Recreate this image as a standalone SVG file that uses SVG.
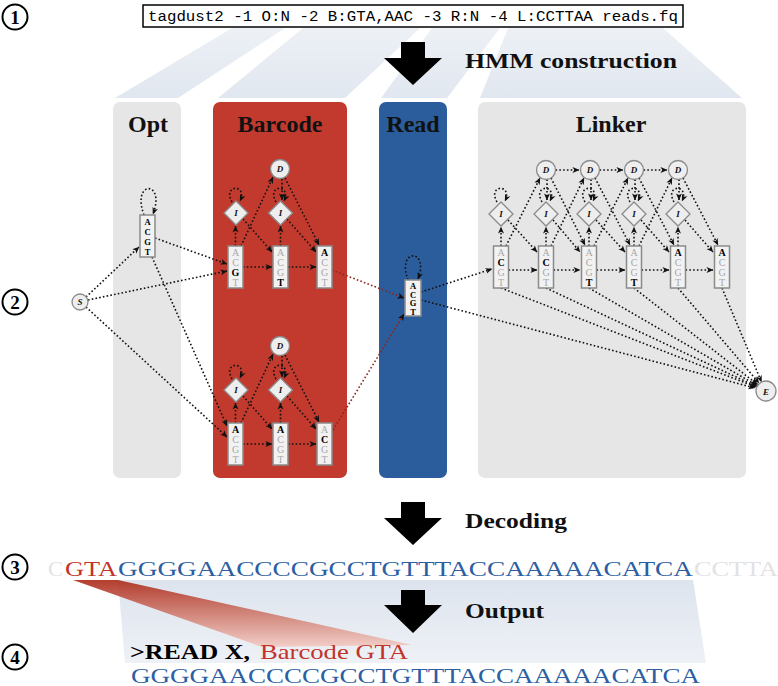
<svg xmlns="http://www.w3.org/2000/svg" width="778" height="686" viewBox="0 0 778 686">
<defs>
<marker id="ah" viewBox="0 0 8 8" refX="7.5" refY="4" markerWidth="7" markerHeight="7" orient="auto" markerUnits="userSpaceOnUse"><path d="M0,0.6 L8,4 L0,7.4 L2.2,4 z" fill="#111"/></marker>
<linearGradient id="band" x1="0" y1="0" x2="0" y2="1"><stop offset="0" stop-color="#dde4ee"/><stop offset="1" stop-color="#eef1f6"/></linearGradient>
<linearGradient id="wedge" x1="0" y1="0" x2="0" y2="1"><stop offset="0" stop-color="#ad2d1c"/><stop offset="1" stop-color="#f2cbc3"/></linearGradient>
<linearGradient id="fan" x1="0" y1="0" x2="0" y2="1"><stop offset="0" stop-color="#edf1f6"/><stop offset="1" stop-color="#e1e7f0"/></linearGradient>
</defs>
<style>
.num{font-family:"Liberation Serif",serif;font-weight:bold;font-size:19px;text-anchor:middle}
.ncirc{fill:#fff;stroke:#000;stroke-width:2}
.title{font-family:"Liberation Serif",serif;font-weight:bold;font-size:24px;text-anchor:middle;fill:#111}
.lab{font-family:"Liberation Serif",serif;font-weight:bold;font-size:21px;fill:#111}
.box{fill:#f2f2f2;stroke:#8a8a8a;stroke-width:1.5}
.st{fill:#eeeeee;stroke:#8a8a8a;stroke-width:1.3}
.lt{font-family:"Liberation Serif",serif;font-size:10px;text-anchor:middle;fill:#a8a8a8}
.lb{font-family:"Liberation Serif",serif;font-size:10px;font-weight:bold;text-anchor:middle;fill:#000}
.ls{font-family:"Liberation Serif",serif;font-size:8.5px;font-weight:bold;text-anchor:middle;fill:#000}
.it{font-family:"Liberation Serif",serif;font-style:italic;font-weight:bold;font-size:9px;text-anchor:middle;fill:#111}
.c{fill:none;stroke:#111;stroke-width:1.6;stroke-dasharray:1.6 2.2;marker-end:url(#ah)}
.cr{fill:none;stroke:#8e2418;stroke-width:1.6;stroke-dasharray:1.6 2.2;marker-end:url(#ah)}
.seq{font-family:"Liberation Serif",serif;font-size:22px}
</style>
<rect width="778" height="686" fill="#fff"/>

<g id="fans" fill="url(#fan)">
<polygon points="232,28 285,28 178,98 115,98"/>
<polygon points="303,28 420,28 345,98 218,98"/>
<polygon points="432,28 500,28 447,98 381,98"/>
<polygon points="508,28 663,28 742,98 480,98"/>
</g>

<g id="step1">
<circle class="ncirc" cx="15" cy="17" r="12.5"/><text class="num" x="15" y="23.5">1</text>
<rect x="143" y="5" width="540" height="22" fill="#fff" stroke="#000" stroke-width="1.5"/>
<text x="148" y="21" font-family="Liberation Mono,monospace" font-size="15.5" textLength="530" lengthAdjust="spacingAndGlyphs">tagdust2 -1 O:N -2 B:GTA,AAC -3 R:N -4 L:CCTTAA reads.fq</text>
<polygon points="401,42 425,42 425,58 442,58 413,85 384,58 401,58" fill="#000"/>
<text class="lab" x="465" y="68" font-size="24" textLength="212" lengthAdjust="spacingAndGlyphs">HMM construction</text>
</g>

<g id="col_opt"><rect x="113" y="102" width="68" height="376" rx="7" fill="#e6e6e6"/><text class="title" x="148" y="132">Opt</text></g>
<g id="col_barcode"><rect x="213" y="102" width="134" height="376" rx="7" fill="#c23a2d"/><text class="title" x="280" y="132">Barcode</text></g>
<g id="col_read"><rect x="379" y="102" width="68" height="376" rx="7" fill="#2b5c9c"/><text class="title" x="413" y="132">Read</text></g>
<g id="col_linker"><rect x="478" y="102" width="268" height="376" rx="7" fill="#e6e6e6"/><text class="title" x="611" y="132">Linker</text></g>

<circle class="ncirc" cx="15" cy="302" r="12.5"/><text class="num" x="15" y="308.5">2</text>

<g id="connectors">
<path class="c" d="M86,297 L139,247"/>
<path class="c" d="M88,300 L227,271"/>
<path class="c" d="M86,307 L227,437"/>
<path class="c" d="M155,238 L227,264"/>
<path class="c" d="M152,257 L227,426"/>
<path class="c" d="M144,215 C131,180 166,180 153,214"/>
<path class="c" d="M235.5,246 L235.5,226"/>
<path class="c" d="M280.5,246 L280.5,226"/>
<path class="c" d="M243,267 L272,267"/>
<path class="c" d="M288,267 L316,267"/>
<path class="c" d="M243,219 L272,252"/>
<path class="c" d="M287,219 L316,252"/>
<path class="c" d="M241,246 L273,177"/>
<path class="c" d="M282,179 L282,200"/>
<path class="c" d="M285,178 L319,245"/>
<path class="c" d="M232,202 C222,184 248,184 240,201"/>
<path class="c" d="M276,202 C266,184 292,184 284,201"/>
<path class="c" d="M235.5,423 L235.5,403"/>
<path class="c" d="M280.5,423 L280.5,403"/>
<path class="c" d="M243,444 L272,444"/>
<path class="c" d="M288,444 L316,444"/>
<path class="c" d="M243,396 L272,429"/>
<path class="c" d="M287,396 L316,429"/>
<path class="c" d="M241,423 L273,354"/>
<path class="c" d="M282,356 L282,377"/>
<path class="c" d="M285,355 L319,422"/>
<path class="c" d="M232,379 C222,361 248,361 240,378"/>
<path class="c" d="M276,379 C266,361 292,361 284,378"/>
<path class="cr" d="M332,270 L404,298"/>
<path class="cr" d="M333,430 L404,314"/>
<path class="c" d="M408,280 C396,248 430,248 418,279"/>
<path class="c" d="M421,292 L492,269"/>
<path class="c" d="M421,300 L755,388"/>
<path class="c" d="M508.5,270 L537,270"/>
<path class="c" d="M553.5,270 L580,270"/>
<path class="c" d="M596.5,270 L625,270"/>
<path class="c" d="M641.5,270 L669,270"/>
<path class="c" d="M685.5,270 L713,270"/>
<path class="c" d="M501,246 L501,227"/>
<path class="c" d="M546,246 L546,227"/>
<path class="c" d="M589,246 L589,227"/>
<path class="c" d="M634,246 L634,227"/>
<path class="c" d="M678,246 L678,227"/>
<path class="c" d="M508,220 L537,252"/>
<path class="c" d="M553,220 L580,252"/>
<path class="c" d="M596,220 L625,252"/>
<path class="c" d="M641,220 L669,252"/>
<path class="c" d="M685,220 L713,252"/>
<path class="c" d="M506,246 L540,178"/>
<path class="c" d="M551,246 L584,178"/>
<path class="c" d="M594,246 L628,178"/>
<path class="c" d="M639,246 L672,178"/>
<path class="c" d="M555.5,170 L579,170"/>
<path class="c" d="M599.5,170 L623,170"/>
<path class="c" d="M643.5,170 L667,170"/>
<path class="c" d="M547,179.5 L547,200"/>
<path class="c" d="M591,179.5 L591,200"/>
<path class="c" d="M635,179.5 L635,200"/>
<path class="c" d="M679,179.5 L679,200"/>
<path class="c" d="M551,178 L585,245"/>
<path class="c" d="M595,178 L630,245"/>
<path class="c" d="M639,178 L674,245"/>
<path class="c" d="M683,178 L718,245"/>
<path class="c" d="M497,202 C487,184 513,184 505,201"/>
<path class="c" d="M542,202 C532,184 558,184 550,201"/>
<path class="c" d="M585,202 C575,184 601,184 593,201"/>
<path class="c" d="M630,202 C620,184 646,184 638,201"/>
<path class="c" d="M674,202 C664,184 690,184 682,201"/>
<path class="c" d="M501,288 L756,387"/>
<path class="c" d="M546,288 L756.5,386.5"/>
<path class="c" d="M589,288 L757,385.5"/>
<path class="c" d="M634,288 L757.5,384.5"/>
<path class="c" d="M678,288 L759,383"/>
<path class="c" d="M722,288 L761.5,382"/>
</g>

<g id="S"><circle class="st" cx="80" cy="302" r="8"/><text class="it" x="80" y="305" font-size="8">S</text></g>
<g id="E"><circle class="st" cx="766" cy="391" r="10"/><text class="it" x="766" y="394.5">E</text></g>

<g id="opt_m"><rect class="box" x="140" y="215" width="15" height="42"/>
<text class="ls" x="147.5" y="225">A</text><text class="ls" x="147.5" y="235">C</text><text class="ls" x="147.5" y="245">G</text><text class="ls" x="147.5" y="255">T</text></g>

<g id="bc_top_D"><circle class="st" cx="280" cy="169" r="9.5"/><text class="it" x="280" y="172">D</text></g>
<g id="bc_top_I1"><polygon class="st" points="236,201 248,213 236,225 224,213"/><text class="it" x="236" y="216">I</text></g>
<g id="bc_top_I2"><polygon class="st" points="280.5,201 292.5,213 280.5,225 268.5,213"/><text class="it" x="280.5" y="216">I</text></g>
<g id="bc_top_M1"><rect class="box" x="228" y="246" width="15" height="42"/>
<text class="lt" x="235.5" y="256">A</text><text class="lt" x="235.5" y="266">C</text><text class="lb" x="235.5" y="276">G</text><text class="lt" x="235.5" y="286">T</text></g>
<g id="bc_top_M2"><rect class="box" x="273" y="246" width="15" height="42"/>
<text class="lt" x="280.5" y="256">A</text><text class="lt" x="280.5" y="266">C</text><text class="lt" x="280.5" y="276">G</text><text class="lb" x="280.5" y="286">T</text></g>
<g id="bc_top_M3"><rect class="box" x="317" y="246" width="15" height="42"/>
<text class="lb" x="324.5" y="256">A</text><text class="lt" x="324.5" y="266">C</text><text class="lt" x="324.5" y="276">G</text><text class="lt" x="324.5" y="286">T</text></g>

<g id="bc_bot_D"><circle class="st" cx="280" cy="346" r="9.5"/><text class="it" x="280" y="349">D</text></g>
<g id="bc_bot_I1"><polygon class="st" points="236,378 248,390 236,402 224,390"/><text class="it" x="236" y="393">I</text></g>
<g id="bc_bot_I2"><polygon class="st" points="280.5,378 292.5,390 280.5,402 268.5,390"/><text class="it" x="280.5" y="393">I</text></g>
<g id="bc_bot_M1"><rect class="box" x="228" y="423" width="15" height="42"/>
<text class="lb" x="235.5" y="433">A</text><text class="lt" x="235.5" y="443">C</text><text class="lt" x="235.5" y="453">G</text><text class="lt" x="235.5" y="463">T</text></g>
<g id="bc_bot_M2"><rect class="box" x="273" y="423" width="15" height="42"/>
<text class="lb" x="280.5" y="433">A</text><text class="lt" x="280.5" y="443">C</text><text class="lt" x="280.5" y="453">G</text><text class="lt" x="280.5" y="463">T</text></g>
<g id="bc_bot_M3"><rect class="box" x="317" y="423" width="15" height="42"/>
<text class="lt" x="324.5" y="433">A</text><text class="lb" x="324.5" y="443">C</text><text class="lt" x="324.5" y="453">G</text><text class="lt" x="324.5" y="463">T</text></g>

<g id="read_m"><rect class="box" x="405" y="280" width="16" height="36"/>
<text class="ls" x="413" y="289">A</text><text class="ls" x="413" y="297.5">C</text><text class="ls" x="413" y="306">G</text><text class="ls" x="413" y="314.5">T</text></g>

<g id="lk_D1"><circle class="st" cx="546" cy="170" r="9.5"/><text class="it" x="546" y="173">D</text></g>
<g id="lk_D2"><circle class="st" cx="590" cy="170" r="9.5"/><text class="it" x="590" y="173">D</text></g>
<g id="lk_D3"><circle class="st" cx="634" cy="170" r="9.5"/><text class="it" x="634" y="173">D</text></g>
<g id="lk_D4"><circle class="st" cx="678" cy="170" r="9.5"/><text class="it" x="678" y="173">D</text></g>
<g id="lk_I1"><polygon class="st" points="501,202 513,214 501,226 489,214"/><text class="it" x="501" y="217">I</text></g>
<g id="lk_I2"><polygon class="st" points="546,202 558,214 546,226 534,214"/><text class="it" x="546" y="217">I</text></g>
<g id="lk_I3"><polygon class="st" points="589,202 601,214 589,226 577,214"/><text class="it" x="589" y="217">I</text></g>
<g id="lk_I4"><polygon class="st" points="634,202 646,214 634,226 622,214"/><text class="it" x="634" y="217">I</text></g>
<g id="lk_I5"><polygon class="st" points="678,202 690,214 678,226 666,214"/><text class="it" x="678" y="217">I</text></g>
<g id="lk_M1"><rect class="box" x="493.5" y="246" width="15" height="42"/>
<text class="lt" x="501" y="256">A</text><text class="lb" x="501" y="266">C</text><text class="lt" x="501" y="276">G</text><text class="lt" x="501" y="286">T</text></g>
<g id="lk_M2"><rect class="box" x="538.5" y="246" width="15" height="42"/>
<text class="lt" x="546" y="256">A</text><text class="lb" x="546" y="266">C</text><text class="lt" x="546" y="276">G</text><text class="lt" x="546" y="286">T</text></g>
<g id="lk_M3"><rect class="box" x="581.5" y="246" width="15" height="42"/>
<text class="lt" x="589" y="256">A</text><text class="lt" x="589" y="266">C</text><text class="lt" x="589" y="276">G</text><text class="lb" x="589" y="286">T</text></g>
<g id="lk_M4"><rect class="box" x="626.5" y="246" width="15" height="42"/>
<text class="lt" x="634" y="256">A</text><text class="lt" x="634" y="266">C</text><text class="lt" x="634" y="276">G</text><text class="lb" x="634" y="286">T</text></g>
<g id="lk_M5"><rect class="box" x="670.5" y="246" width="15" height="42"/>
<text class="lb" x="678" y="256">A</text><text class="lt" x="678" y="266">C</text><text class="lt" x="678" y="276">G</text><text class="lt" x="678" y="286">T</text></g>
<g id="lk_M6"><rect class="box" x="714.5" y="246" width="15" height="42"/>
<text class="lb" x="722" y="256">A</text><text class="lt" x="722" y="266">C</text><text class="lt" x="722" y="276">G</text><text class="lt" x="722" y="286">T</text></g>

<g id="step3">
<polygon points="401,502 425,502 425,518 442,518 413,545 384,518 401,518" fill="#000"/>
<text class="lab" x="465" y="528" textLength="102" lengthAdjust="spacingAndGlyphs">Decoding</text>
<polygon points="118,580 693,580 706,663 125,663" fill="url(#band)"/>
<polygon points="73,580 118,580 412,645 262,647" fill="url(#wedge)" opacity="0.92"/>
<circle class="ncirc" cx="15" cy="567" r="12.5"/><text class="num" x="15" y="573.5">3</text>
<text class="seq" x="48" y="576" fill="#e2e2e2" textLength="15" lengthAdjust="spacingAndGlyphs">C</text>
<text class="seq" x="65" y="576" fill="#c4332a" textLength="52" lengthAdjust="spacingAndGlyphs">GTA</text>
<text class="seq" x="118" y="576" fill="#2b5ea3" textLength="575" lengthAdjust="spacingAndGlyphs">GGGGAACCCCGCCTGTTTACCAAAAACATCA</text>
<text class="seq" x="694" y="576" fill="#e2e2e2" textLength="84" lengthAdjust="spacingAndGlyphs">CCTTA</text>
</g>

<g id="step4">
<polygon points="401,590 425,590 425,605 442,605 413,633 384,605 401,605" fill="#000"/>
<text class="lab" x="465" y="618" textLength="79" lengthAdjust="spacingAndGlyphs">Output</text>
<circle class="ncirc" cx="15" cy="657" r="12.5"/><text class="num" x="15" y="663.5">4</text>
<text class="seq" x="130" y="659" font-size="20" font-weight="bold" fill="#000" textLength="120" lengthAdjust="spacingAndGlyphs">&gt;READ X,</text>
<text class="seq" x="260" y="659" font-size="20" fill="#c4332a" textLength="148" lengthAdjust="spacingAndGlyphs">Barcode GTA</text>
<text class="seq" x="131" y="682.5" font-size="18.5" fill="#2b5ea3" textLength="569" lengthAdjust="spacingAndGlyphs">GGGGAACCCCGCCTGTTTACCAAAAACATCA</text>
</g>
</svg>
